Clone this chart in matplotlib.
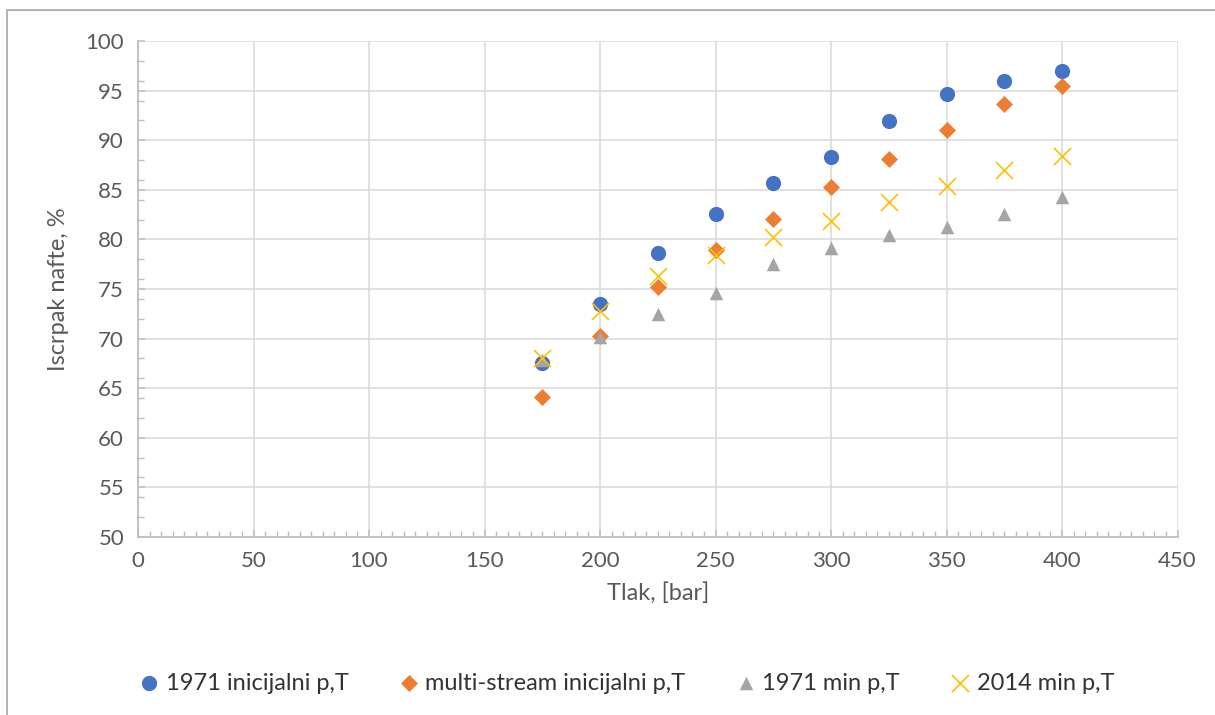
import matplotlib
matplotlib.use("Agg")
import matplotlib.pyplot as plt
from matplotlib.ticker import MultipleLocator
from matplotlib.patches import Rectangle

plt.rcParams['font.family'] = ['Lato', 'DejaVu Sans']

tlak = [175, 200, 225, 250, 275, 300, 325, 350, 375, 400]
s1971_init = [67.5, 73.5, 78.6, 82.6, 85.7, 88.3, 91.9, 94.7, 96.0, 97.0]
multi_init = [64.1, 70.3, 75.2, 78.9, 82.1, 85.3, 88.1, 91.0, 93.6, 95.5]
s1971_min = [67.8, 70.2, 72.5, 74.6, 77.5, 79.1, 80.4, 81.2, 82.6, 84.3]
s2014_min = [68.0, 72.8, 76.3, 78.4, 80.2, 81.9, 83.8, 85.4, 87.0, 88.4]

labels = ['1971 inicijalni p,T', 'multi-stream inicijalni p,T', '1971 min p,T', '2014 min p,T']

W, H = 1215, 715
fig = plt.figure(figsize=(W / 100, H / 100), dpi=100)
ax = fig.add_axes([138 / W, 1 - 537 / H, (1177.5 - 138) / W, (537 - 41) / H])

ax.scatter(tlak, s1971_init, marker='o', s=120, color='#4472C4', label=labels[0], zorder=3, linewidths=0)
ax.scatter(tlak, multi_init, marker='D', s=75, color='#ED7D31', label=labels[1], zorder=3, linewidths=0)
ax.scatter(tlak, s1971_min, marker='^', s=95, color='#A5A5A5', label=labels[2], zorder=3, linewidths=0)
ax.scatter(tlak, s2014_min, marker='x', s=150, color='#FFC000', label=labels[3], zorder=3, linewidths=1.2)

ax.set_xlim(0, 450)
ax.set_ylim(50, 100)
ax.xaxis.set_major_locator(MultipleLocator(50))
ax.xaxis.set_minor_locator(MultipleLocator(5))
ax.yaxis.set_major_locator(MultipleLocator(5))
ax.yaxis.set_minor_locator(MultipleLocator(2))

ax.grid(True, which='major', color='#d9d9d9', linewidth=1.1, zorder=0)
ax.set_axisbelow(True)
for sp in ['top', 'right']:
    ax.spines[sp].set_visible(False)
for sp in ['left', 'bottom']:
    ax.spines[sp].set_color('#bfbfbf')
    ax.spines[sp].set_linewidth(1.3)

ax.tick_params(axis='both', which='major', direction='in', length=5, width=1.1, color='#bfbfbf',
               labelsize=16, labelcolor='#595959', pad=10)
ax.tick_params(axis='both', which='minor', direction='in', length=4, width=1.0, color='#bfbfbf')

ax.set_xlabel('Tlak, [bar]', fontsize=17, color='#595959', labelpad=8)
ax.set_ylabel('Iscrpak nafte, %', fontsize=17, color='#595959', labelpad=12)

leg = fig.legend(loc='center', bbox_to_anchor=(624 / W, 1 - 683 / H), ncol=4, frameon=False,
                 fontsize=17, handletextpad=0.05, columnspacing=1.9, scatterpoints=1,
                 handlelength=1.3)
for t in leg.get_texts():
    t.set_color('#333333')

fig.patches.append(Rectangle((7 / W, -0.01), 1.1, 1 - 10 / H + 0.01, transform=fig.transFigure,
                             fill=False, edgecolor='#a6a6a6', linewidth=1.2))

fig.savefig('out.png', dpi=100, facecolor='white')
